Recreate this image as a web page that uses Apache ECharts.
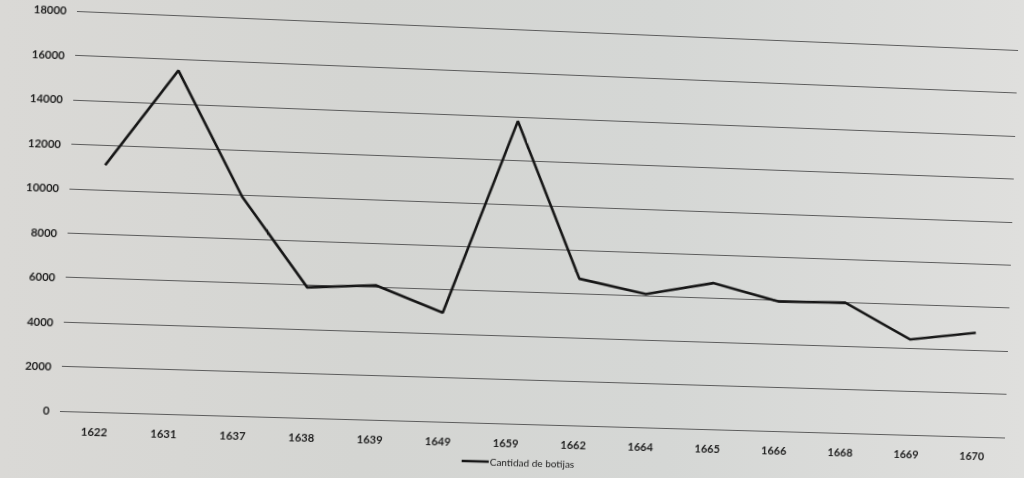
<!DOCTYPE html>
<html>
<head>
<meta charset="utf-8">
<script src="https://cdn.jsdelivr.net/npm/echarts@6/dist/echarts.min.js"></script>
<style>
html, body {
  margin: 0; padding: 0; width: 1024px; height: 478px; overflow: hidden;
  background: linear-gradient(to right, #dad9d6 0%, #d4d5d2 35%, #d5d7d5 65%, #dfdfdd 100%);
}
#chart { position: absolute; left: 0; top: 0; width: 1024px; height: 478px; transform-origin: 0 0; }
</style>
</head>
<body>
<div id="chart"></div>
<script>
// ---- data ----
const categories = ['1622', '1631', '1637', '1638', '1639', '1649', '1659', '1662', '1664', '1665', '1666', '1668', '1669', '1670'];
const botijas = [11100, 15500, 9900, 5900, 6100, 4950, 13800, 6700, 6100, 6700, 5950, 6000, 4400, 4800];
const seriesName = 'Cantidad de botijas';
const yMin = 0;
const yMax = 18000;
const yInterval = 2000;

// ---- photo perspective (page is a photographed print) ----
const SRC = [[60, 11], [1005, 11], [1005, 411], [60, 411]];
const DST = [[77, 11], [1018, 50], [1005, 437.5], [60, 411]];

function solve(A, b) {
  const n = b.length;
  for (let i = 0; i < n; i++) {
    let p = i;
    for (let r = i + 1; r < n; r++) if (Math.abs(A[r][i]) > Math.abs(A[p][i])) p = r;
    [A[i], A[p]] = [A[p], A[i]]; [b[i], b[p]] = [b[p], b[i]];
    for (let r = i + 1; r < n; r++) {
      const f = A[r][i] / A[i][i];
      for (let c = i; c < n; c++) A[r][c] -= f * A[i][c];
      b[r] -= f * b[i];
    }
  }
  const x = new Array(n).fill(0);
  for (let i = n - 1; i >= 0; i--) {
    let s = b[i];
    for (let c = i + 1; c < n; c++) s -= A[i][c] * x[c];
    x[i] = s / A[i][i];
  }
  return x;
}
function homography(src, dst) {
  const A = [], b = [];
  for (let i = 0; i < 4; i++) {
    const [x, y] = src[i], [X, Y] = dst[i];
    A.push([x, y, 1, 0, 0, 0, -x * X, -y * X]); b.push(X);
    A.push([0, 0, 0, x, y, 1, -x * Y, -y * Y]); b.push(Y);
  }
  const h = solve(A, b);
  return 'matrix3d(' + [h[0], h[3], 0, h[6], h[1], h[4], 0, h[7], 0, 0, 1, 0, h[2], h[5], 0, 1].join(',') + ')';
}
const el = document.getElementById('chart');
el.style.transform = homography(SRC, DST);

const chart = echarts.init(el, null, { renderer: 'svg' });
const labelFont = { fontFamily: 'Lato', fontWeight: 'bold', fontSize: 11, color: '#1e1e1e' };
chart.setOption({
  animation: false,
  backgroundColor: 'transparent',
  grid: { left: 60, top: 11, right: 19, bottom: 67, containLabel: false },
  legend: {
    bottom: 18,
    left: 'center',
    itemWidth: 27,
    itemHeight: 2.5,
    itemGap: 10,
    data: [{ name: seriesName, icon: 'rect' }],
    textStyle: { fontFamily: 'Lato', fontSize: 10, color: '#1e1e1e', padding: [0, 0, 0, -4] }
  },
  xAxis: {
    type: 'category',
    data: categories,
    boundaryGap: true,
    axisLine: { show: false },
    axisTick: { show: false },
    axisLabel: Object.assign({ margin: 14, interval: 0 }, labelFont),
    splitLine: { show: false }
  },
  yAxis: {
    type: 'value',
    min: yMin,
    max: yMax,
    interval: yInterval,
    axisLine: { show: false },
    axisTick: { show: false },
    axisLabel: Object.assign({ margin: 10, formatter: v => String(v) }, labelFont),
    splitLine: { show: true, lineStyle: { color: '#5c5c5c', width: 1.2 } }
  },
  series: [{
    name: seriesName,
    type: 'line',
    data: botijas,
    symbol: 'none',
    lineStyle: { color: '#161616', width: 2.6 },
    itemStyle: { color: '#161616' }
  }]
});
</script>
</body>
</html>
